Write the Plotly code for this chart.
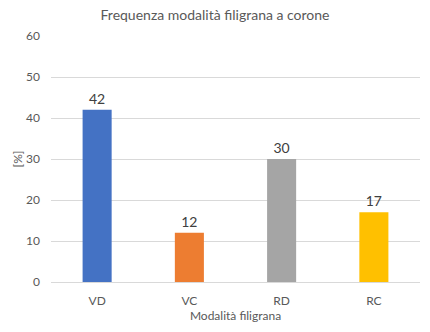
import plotly.graph_objects as go

categories = ["VD", "VC", "RD", "RC"]
values = [42, 12, 30, 17]
colors = ["#4472C4", "#ED7D31", "#A5A5A5", "#FFC000"]
y_ticks = [0, 10, 20, 30, 40, 50, 60]

font_family = "Lato, 'Open Sans', sans-serif"

fig = go.Figure(
    go.Bar(
        x=categories,
        y=values,
        marker=dict(color=colors, line=dict(width=0)),
        text=values,
        texttemplate="%{text}",
        textposition="outside",
        textfont=dict(size=14, color="#404040", family=font_family),
        cliponaxis=False,
        width=0.315,
    )
)

fig.update_layout(
    width=430,
    height=332,
    margin=dict(l=51, r=10, t=36, b=50),
    paper_bgcolor="white",
    plot_bgcolor="white",
    showlegend=False,
    font=dict(family=font_family, color="#595959", size=12),
    title=dict(
        text="Frequenza modalità filigrana a corone",
        x=0.5,
        xanchor="center",
        y=1 - 15 / 332,
        yanchor="middle",
        font=dict(size=14, color="#595959", family=font_family),
    ),
)

fig.update_xaxes(
    title=dict(text="Modalità filigrana", font=dict(size=12, color="#595959"), standoff=3),
    showgrid=False,
    showline=True,
    linecolor="#D9D9D9",
    linewidth=1,
    ticks="",
    ticklabelstandoff=8,
    tickfont=dict(size=12, color="#595959"),
)

fig.update_yaxes(
    title=dict(text="[%]", font=dict(size=12, color="#595959"), standoff=0),
    range=[0, 60],
    tickvals=y_ticks,
    showgrid=True,
    gridcolor="#D9D9D9",
    gridwidth=1,
    zeroline=False,
    showline=False,
    ticks="",
    ticklabelstandoff=10,
    tickfont=dict(size=12, color="#595959"),
)

fig.write_html("out.html")
